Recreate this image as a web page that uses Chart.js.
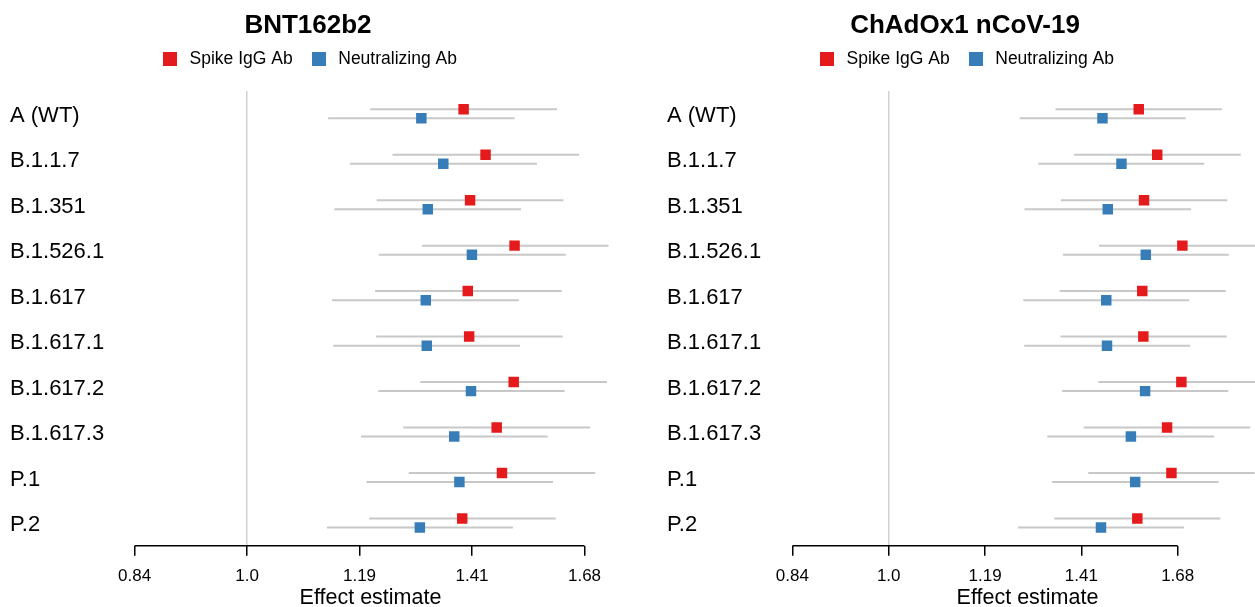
<!DOCTYPE html>
<html>
<head>
<meta charset="utf-8">
<script src="https://cdn.jsdelivr.net/npm/chart.js@4.4.1/dist/chart.umd.min.js"></script>
<style>
  html, body { margin: 0; padding: 0; background: #fff; }
  #wrap { position: relative; width: 1255px; height: 607px; overflow: hidden; }
  #wrap canvas { position: absolute; top: 0; }
</style>
</head>
<body>
<div id="wrap">
  <canvas id="bnt" width="657" height="607" style="left:0"></canvas>
  <canvas id="chad" width="657" height="607" style="left:657px"></canvas>
</div>
<script>
// variants, top to bottom
const variants = ['A (WT)', 'B.1.1.7', 'B.1.351', 'B.1.526.1', 'B.1.617', 'B.1.617.1', 'B.1.617.2', 'B.1.617.3', 'P.1', 'P.2']
const seriesNames = ['Spike IgG Ab', 'Neutralizing Ab']

// BNT162b2
const bntSpike   = [1.396, 1.444, 1.410, 1.510, 1.405, 1.408, 1.508, 1.469, 1.481, 1.393]
const bntSpikeLo = [1.209, 1.251, 1.221, 1.309, 1.218, 1.220, 1.306, 1.272, 1.283, 1.207]
const bntSpikeHi = [1.612, 1.668, 1.628, 1.745, 1.624, 1.626, 1.741, 1.697, 1.710, 1.609]
const bntNeut    = [1.308, 1.353, 1.321, 1.414, 1.317, 1.319, 1.412, 1.376, 1.387, 1.305]
const bntNeutLo  = [1.133, 1.172, 1.144, 1.225, 1.140, 1.142, 1.224, 1.192, 1.202, 1.131]
const bntNeutHi  = [1.510, 1.563, 1.525, 1.634, 1.520, 1.523, 1.631, 1.589, 1.602, 1.506]

// ChAdOx1 nCoV-19
const chadSpike   = [1.568, 1.621, 1.583, 1.696, 1.578, 1.581, 1.693, 1.650, 1.663, 1.564]
const chadSpikeLo = [1.350, 1.396, 1.363, 1.460, 1.360, 1.362, 1.458, 1.420, 1.432, 1.347]
const chadSpikeHi = [1.821, 1.884, 1.839, 1.970, 1.834, 1.837, 1.966, 1.916, 1.931, 1.816]
const chadNeut    = [1.469, 1.520, 1.483, 1.588, 1.479, 1.481, 1.586, 1.546, 1.558, 1.465]
const chadNeutLo  = [1.266, 1.309, 1.277, 1.368, 1.274, 1.276, 1.366, 1.330, 1.342, 1.262]
const chadNeutHi  = [1.706, 1.764, 1.723, 1.844, 1.717, 1.720, 1.842, 1.796, 1.810, 1.701]

// x axis ticks (log scale)
const tickValues = [0.8409, 1, 1.1892, 1.4142, 1.6818]
const tickLabels = ['0.84', '1.0', '1.19', '1.41', '1.68']

const RED = '#E41A1C'
const BLUE = '#377EB8'
const CI_GREY = '#c8c8c8'
const FONT = "'Liberation Sans', Arial, Helvetica, sans-serif"

Chart.defaults.font.family = FONT
Chart.defaults.color = '#000'

// small square used as legend marker (keeps a wider gap before the text)
function swatch(color) {
  const c = document.createElement('canvas')
  c.width = 14
  c.height = 14
  const g = c.getContext('2d')
  g.fillStyle = color
  g.fillRect(0, 0, 14, 14)
  return c
}

// axis line only between first and last tick, like base R
const axisLine = {
  id: 'axisLine',
  afterDraw(chart) {
    const sx = chart.scales.x
    const ctx = chart.ctx
    const y = chart.chartArea.bottom
    ctx.save()
    ctx.strokeStyle = '#000'
    ctx.lineWidth = 1.5
    ctx.beginPath()
    ctx.moveTo(sx.getPixelForValue(tickValues[0]), y)
    ctx.lineTo(sx.getPixelForValue(tickValues[tickValues.length - 1]), y)
    ctx.stroke()
    ctx.restore()
  }
}

function ciSets(lo, hi, off) {
  return lo.map((l, i) => ({
    data: [{ x: l, y: i + off }, { x: hi[i], y: i + off }],
    yAxisID: 'y',
    showLine: true,
    borderColor: CI_GREY,
    borderWidth: 2,
    pointRadius: 0,
  }))
}

function makeForest(id, title, spike, spikeLo, spikeHi, neut, neutLo, neutHi, xMin, xMax) {
  const ctx = document.getElementById(id)
  return new Chart(ctx, {
    type: 'scatter',
    data: {
      datasets: [
        {
          label: seriesNames[0],
          data: spike.map((v, i) => ({ x: v, y: i - 0.1 })),
          yAxisID: 'y',
          backgroundColor: RED,
          borderColor: RED,
          borderWidth: 0,
          pointStyle: 'rect',
          pointRadius: 7.4,
        },
        {
          label: seriesNames[1],
          data: neut.map((v, i) => ({ x: v, y: i + 0.1 })),
          yAxisID: 'y',
          backgroundColor: BLUE,
          borderColor: BLUE,
          borderWidth: 0,
          pointStyle: 'rect',
          pointRadius: 7.4,
        },
        ...ciSets(spikeLo, spikeHi, -0.1),
        ...ciSets(neutLo, neutHi, 0.1),
      ],
    },
    options: {
      responsive: false,
      animation: false,
      events: [],
      layout: { padding: { left: 0, right: 41, top: 0, bottom: 0 } },
      scales: {
        x: {
          type: 'logarithmic',
          min: xMin,
          max: xMax,
          afterBuildTicks: (scale) => {
            scale.ticks = tickValues.map((v) => ({ value: v }))
          },
          afterFit: (scale) => {
            scale.height = 61.3
          },
          border: { display: false },
          grid: {
            color: (c) => (c.tick && c.tick.value === 1 ? '#d2d2d2' : 'rgba(0,0,0,0)'),
            lineWidth: 1.5,
            tickColor: '#000',
            tickWidth: 1.5,
            tickLength: 10,
          },
          ticks: {
            autoSkip: false,
            maxRotation: 0,
            padding: 10.8,
            font: { size: 17 },
            callback: (v, i) => tickLabels[i],
          },
          title: {
            display: true,
            text: 'Effect estimate',
            font: { size: 21.5, lineHeight: 0.8 },
            padding: { top: 3.2, bottom: 0 },
          },
        },
        y: {
          type: 'linear',
          position: 'left',
          reverse: true,
          min: -0.5,
          max: 9.5,
          afterBuildTicks: (scale) => {
            scale.ticks = variants.map((_, i) => ({ value: i }))
          },
          afterFit: (scale) => {
            scale.width = 115
          },
          border: { display: false },
          grid: { display: false },
          ticks: {
            crossAlign: 'far',
            labelOffset: 2,
            font: { size: 22 },
            callback: (v) => variants[v],
          },
        },
        // empty strip that keeps the variant labels off the left edge
        gutter: {
          type: 'linear',
          position: 'left',
          weight: 1,
          display: true,
          afterFit: (scale) => {
            scale.width = 10
          },
          border: { display: false },
          grid: { display: false },
          ticks: { display: false },
        },
      },
      plugins: {
        title: {
          display: true,
          text: title,
          font: { size: 26, weight: 'bold', lineHeight: 0.4 },
          padding: { top: 20.8, bottom: 3.9 },
        },
        legend: {
          display: true,
          labels: {
            usePointStyle: true,
            pointStyleWidth: 21.7,
            boxHeight: 14,
            padding: 15.15,
            font: { size: 17.5 },
            generateLabels: (chart) =>
              Chart.defaults.plugins.legend.labels
                .generateLabels(chart)
                .filter((item) => item.datasetIndex < 2)
                .map((item) => ({ ...item, pointStyle: swatch(item.fillStyle) })),
          },
        },
        subtitle: {
          display: true,
          text: ' ',
          weight: 500,
          font: { size: 10, lineHeight: 1 },
          padding: { top: 3.3, bottom: 0 },
        },
        tooltip: { enabled: false },
      },
    },
    plugins: [axisLine],
  })
}

makeForest('bnt', 'BNT162b2', bntSpike, bntSpikeLo, bntSpikeHi, bntNeut, bntNeutLo, bntNeutHi, 0.8286, 1.7654)
makeForest('chad', 'ChAdOx1 nCoV-19', chadSpike, chadSpikeLo, chadSpikeHi, chadNeut, chadNeutLo, chadNeutHi, 0.8253, 1.9964)
</script>
</body>
</html>
